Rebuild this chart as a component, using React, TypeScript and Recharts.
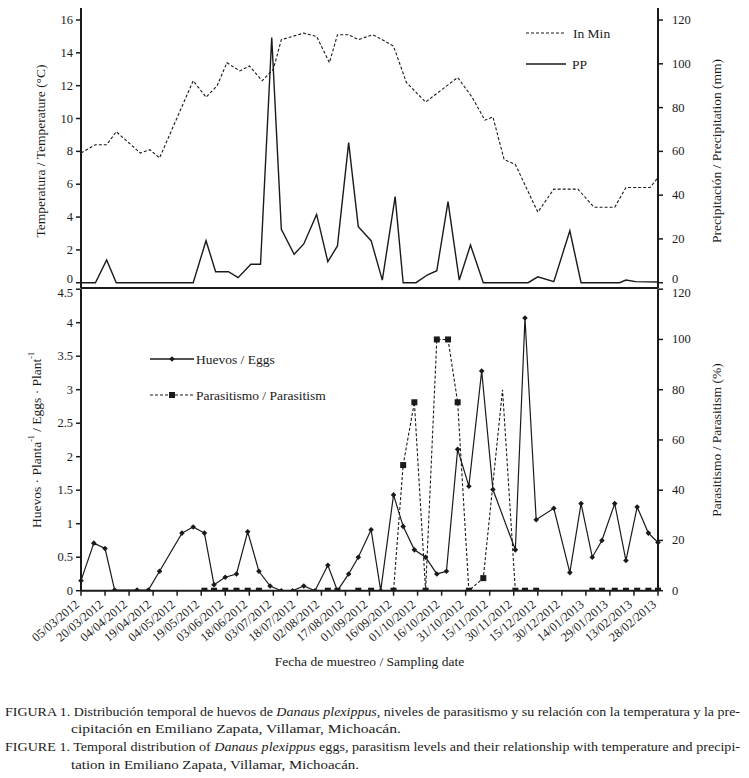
import { ComposedChart, Line, XAxis, YAxis, Legend } from 'recharts'

const FONT = '"Liberation Serif", "DejaVu Serif", serif'
const INK = '#1a1a1a'

// sampling dates, as days after 05/03/2012
const dateTicks = [0, 15, 30, 45, 60, 75, 90, 105, 120, 135, 150, 165, 180, 195, 210, 225, 240, 255, 270, 285, 300, 315, 330, 345, 360]
const dateLabels = [
  '05/03/2012', '20/03/2012', '04/04/2012', '19/04/2012', '04/05/2012', '19/05/2012',
  '03/06/2012', '18/06/2012', '03/07/2012', '18/07/2012', '02/08/2012', '17/08/2012',
  '01/09/2012', '16/09/2012', '01/10/2012', '16/10/2012', '31/10/2012', '15/11/2012',
  '30/11/2012', '15/12/2012', '30/12/2012', '14/01/2013', '29/01/2013', '13/02/2013', '28/02/2013',
]

const tempTicks = [0, 2, 4, 6, 8, 10, 12, 14, 16]
const ppTicks = [0, 20, 40, 60, 80, 100, 120]
const huevosTicks = [0, 0.5, 1, 1.5, 2, 2.5, 3, 3.5, 4, 4.5]
const parTicks = [0, 20, 40, 60, 80, 100, 120]

// In Min (°C)
const tempDays = [0, 9, 16, 22, 37, 43, 49, 70, 78, 85, 91, 99, 105, 113, 120, 125, 132, 139, 147, 155, 160, 167, 173, 182, 188, 195, 203, 215, 235, 244, 252, 257, 264, 271, 285, 295, 310, 320, 333, 340, 355, 360]
const tempValues = [7.9, 8.4, 8.4, 9.2, 7.9, 8.1, 7.6, 12.3, 11.3, 12.0, 13.4, 12.9, 13.2, 12.3, 13.0, 14.8, 15.0, 15.2, 15.0, 13.4, 15.1, 15.1, 14.8, 15.1, 14.8, 14.4, 12.2, 11.0, 12.5, 11.3, 9.9, 10.1, 7.5, 7.2, 4.3, 5.7, 5.7, 4.6, 4.6, 5.8, 5.8, 6.4]

// PP (mm)
const ppDays = [0, 9, 16, 22, 70, 78, 84, 92, 98, 106, 112, 119, 125, 133, 139, 147, 154, 160, 167, 173, 181, 188, 196, 201, 209, 216, 222, 229, 236, 243, 251, 279, 285, 295, 305, 312, 336, 340, 346, 360]
const ppValues = [0, 0, 10.4, 0, 0, 19.2, 5, 5, 2.3, 8.4, 8.4, 112, 24.4, 13, 17.7, 31.2, 9.6, 16.8, 64, 25.6, 19.2, 1.2, 39.3, 0, 0, 3.5, 5.5, 37, 1.2, 17.2, 0, 0, 2.7, 0.5, 23.7, 0, 0, 1.2, 0.5, 0.3]

// Huevos / Eggs per plant
const huevosDays = [0, 8, 15, 21, 35, 42, 49, 63, 70, 77, 83, 90, 97, 104, 111, 118, 125, 132, 139, 146, 154, 160, 167, 173, 181, 187, 195, 201, 208, 215, 222, 228, 235, 242, 250, 257, 271, 277, 284, 295, 305, 312, 319, 325, 333, 340, 347, 354, 360]
const huevosValues = [0.15, 0.71, 0.63, 0.01, 0.01, 0.01, 0.29, 0.86, 0.95, 0.86, 0.09, 0.2, 0.25, 0.88, 0.29, 0.07, 0, 0, 0.07, 0, 0.38, 0, 0.25, 0.5, 0.91, 0, 1.43, 0.96, 0.61, 0.5, 0.25, 0.29, 2.11, 1.56, 3.28, 1.51, 0.61, 4.07, 1.06, 1.23, 0.27, 1.3, 0.5, 0.75, 1.3, 0.45, 1.25, 0.86, 0.72]

// Parasitismo (%)
const parDays = [77, 83, 90, 97, 104, 111, 154, 160, 173, 181, 195, 201, 208, 215, 222, 229, 235, 242, 251, 263, 271, 277, 284, 319, 325, 333, 340, 347, 354, 360]
const parValues = [0, 0, 0, 0, 0, 0, 0, 0, 0, 0, 0, 50, 75, 0, 100, 100, 75, 0, 5, 80, 0, 0, 0, 0, 0, 0, 0, 0, 0, 0]
const parNoMarker = [263]

const tempData = tempDays.map((day, i) => ({ day, value: tempValues[i] }))
const ppData = ppDays.map((day, i) => ({ day, value: ppValues[i] }))
const huevosData = huevosDays.map((day, i) => ({ day, value: huevosValues[i] }))
const parData = parDays.map((day, i) => ({ day, value: parValues[i] }))

const axisLine = { stroke: INK, strokeWidth: 2 }
const tickLine = { stroke: INK, strokeWidth: 1.5 }

// the two panels touch, so the end labels are nudged apart a little
function YTick({ x, y, payload, textAnchor, nudgeValue, nudge }: any) {
  const dy = payload.value === nudgeValue ? nudge : 0
  return (
    <text
      x={x}
      y={y + dy}
      textAnchor={textAnchor}
      dominantBaseline="central"
      fontFamily={FONT}
      fontSize={12.5}
      fill={INK}
    >
      {payload.value}
    </text>
  )
}

function VTitle({ vb, dx, cy, children }: any) {
  const x = vb.x + dx
  const y = cy
  return (
    <text
      x={x}
      y={y}
      transform={`rotate(-90 ${x} ${y})`}
      textAnchor="middle"
      dominantBaseline="central"
      fontFamily={FONT}
      fontSize={13.5}
      fill={INK}
    >
      {children}
    </text>
  )
}

function DateTick({ x, y, payload, index }: any) {
  const label = dateLabels[index] ?? dateLabels[dateTicks.indexOf(payload.value)]
  const ax = x - 1
  const ay = y + 8
  return (
    <text
      x={ax}
      y={ay}
      transform={`rotate(-40 ${ax} ${ay})`}
      textAnchor="end"
      fontFamily={FONT}
      fontSize={12.5}
      fill={INK}
    >
      {label}
    </text>
  )
}

function DiamondDot({ cx, cy, index }: any) {
  if (cx == null || cy == null) return <g key={`d${index}`} />
  const r = 2.8
  return (
    <path
      key={`d${index}`}
      d={`M${cx},${cy - r}L${cx + r},${cy}L${cx},${cy + r}L${cx - r},${cy}Z`}
      fill={INK}
    />
  )
}

function SquareDot({ cx, cy, index, payload }: any) {
  if (cx == null || cy == null || parNoMarker.includes(payload.day)) return <g key={`s${index}`} />
  return <rect key={`s${index}`} x={cx - 3} y={cy - 3} width={6} height={6} fill={INK} />
}

function TopLegend() {
  return (
    <svg width={110} height={56}>
      <line x1={4} y1={11} x2={44} y2={11} stroke={INK} strokeWidth={1.1} strokeDasharray="3 2" />
      <text x={51} y={15.5} fontFamily={FONT} fontSize={13.5} fill={INK}>In Min</text>
      <line x1={4} y1={42} x2={44} y2={42} stroke={INK} strokeWidth={1.6} />
      <text x={50} y={46.5} fontFamily={FONT} fontSize={13.5} fill={INK}>PP</text>
    </svg>
  )
}

function BottomLegend() {
  return (
    <svg width={200} height={56}>
      <line x1={0} y1={10} x2={44} y2={10} stroke={INK} strokeWidth={1.4} />
      <path d="M22,7.2L24.8,10L22,12.8L19.2,10Z" fill={INK} />
      <text x={46} y={14.5} fontFamily={FONT} fontSize={13.5} fill={INK}>Huevos / Eggs</text>
      <line x1={0} y1={46} x2={44} y2={46} stroke={INK} strokeWidth={1.2} strokeDasharray="3 2" />
      <rect x={19} y={43} width={6} height={6} fill={INK} />
      <text x={46} y={50.5} fontFamily={FONT} fontSize={13.5} fill={INK}>Parasitismo / Parasitism</text>
    </svg>
  )
}

function Caption() {
  const t = { fontFamily: FONT, fontSize: 13.5, fill: INK }
  return (
    <svg width={749} height={88} style={{ position: 'absolute', left: 0, top: 690 }}>
      <text x={5} y={26} textLength={735} lengthAdjust="spacingAndGlyphs" {...t}>
        FIGURA 1. Distribución temporal de huevos de <tspan fontStyle="italic">Danaus plexippus</tspan>, niveles de parasitismo y su relación con la temperatura y la pre-
      </text>
      <text x={71} y={43} textLength={330} lengthAdjust="spacingAndGlyphs" {...t}>
        cipitación en Emiliano Zapata, Villamar, Michoacán.
      </text>
      <text x={5} y={61} textLength={735} lengthAdjust="spacingAndGlyphs" {...t}>
        FIGURE 1. Temporal distribution of <tspan fontStyle="italic">Danaus plexippus</tspan> eggs, parasitism levels and their relationship with temperature and precipi-
      </text>
      <text x={71} y={79} textLength={288} lengthAdjust="spacingAndGlyphs" {...t}>
        tation in Emiliano Zapata, Villamar, Michoacán.
      </text>
    </svg>
  )
}

export default function App() {
  return (
    <div style={{ position: 'absolute', left: 0, top: 0, width: 749, height: 778, background: '#fff', fontFamily: FONT }}>
      <div style={{ position: 'absolute', left: 0, top: 0 }}>
        <ComposedChart width={749} height={300} margin={{ top: 8, right: 0, bottom: 11, left: 0 }}>
          <XAxis
            type="number"
            dataKey="day"
            domain={[0, 360]}
            ticks={dateTicks}
            tick={false}
            tickLine={false}
            height={1}
            axisLine={axisLine}
          />
          <YAxis
            yAxisId="t"
            orientation="left"
            width={81}
            domain={[-0.32, 16.73]}
            ticks={tempTicks}
            allowDataOverflow
            tick={(p: any) => <YTick {...p} nudgeValue={0} nudge={-3.5} />}
            tickSize={5}
            tickMargin={3}
            tickLine={tickLine}
            axisLine={axisLine}
            label={({ viewBox }: any) => <VTitle vb={viewBox} dx={40} cy={151}>Temperatura / Temperature (°C)</VTitle>}
          />
          <YAxis
            yAxisId="p"
            orientation="right"
            width={91}
            domain={[-2.42, 125.5]}
            ticks={ppTicks}
            allowDataOverflow
            tick={(p: any) => <YTick {...p} nudgeValue={0} nudge={-3.5} />}
            tickSize={5}
            tickMargin={9}
            tickLine={tickLine}
            axisLine={axisLine}
            label={({ viewBox }: any) => <VTitle vb={viewBox} dx={58} cy={151}>Precipitación / Precipitation (mm)</VTitle>}
          />
          <Legend
            layout="vertical"
            align="center"
            verticalAlign="middle"
            content={<TopLegend />}
            wrapperStyle={{ left: 522, top: 22, width: 110, height: 56 }}
          />
          <Line
            yAxisId="t"
            data={tempData}
            dataKey="value"
            name="In Min"
            stroke={INK}
            strokeWidth={1.1}
            strokeDasharray="3 2"
            dot={false}
            isAnimationActive={false}
          />
          <Line
            yAxisId="p"
            data={ppData}
            dataKey="value"
            name="PP"
            stroke={INK}
            strokeWidth={1.4}
            dot={false}
            isAnimationActive={false}
          />
        </ComposedChart>
      </div>
      <div style={{ position: 'absolute', left: 0, top: 270 }}>
        <ComposedChart width={749} height={400} margin={{ top: 19.2, right: 0, bottom: 0, left: 0 }}>
          <XAxis
            type="number"
            dataKey="day"
            domain={[0, 360]}
            ticks={dateTicks}
            interval={0}
            height={79.3}
            tick={<DateTick />}
            tickSize={5}
            tickLine={tickLine}
            axisLine={axisLine}
            label={({ viewBox }: any) => (
              <text
                x={viewBox.x + viewBox.width / 2}
                y={viewBox.y + 75}
                textAnchor="middle"
                fontFamily={FONT}
                fontSize={13.5}
                fill={INK}
              >
                Fecha de muestreo / Sampling date
              </text>
            )}
          />
          <YAxis
            yAxisId="h"
            orientation="left"
            width={81}
            domain={[0, 4.5]}
            ticks={huevosTicks}
            allowDataOverflow
            tick={(p: any) => <YTick {...p} nudgeValue={4.5} nudge={3.5} />}
            tickSize={5}
            tickMargin={3}
            tickLine={tickLine}
            axisLine={axisLine}
            label={({ viewBox }: any) => (
              <VTitle vb={viewBox} dx={36} cy={170}>
                Huevos · Planta<tspan dy={-5} fontSize={8}>-1</tspan>
                <tspan dy={5}> / Eggs · Plant</tspan>
                <tspan dy={-5} fontSize={8}>-1</tspan>
              </VTitle>
            )}
          />
          <YAxis
            yAxisId="par"
            orientation="right"
            width={91}
            domain={[0, 120]}
            ticks={parTicks}
            allowDataOverflow
            tick={(p: any) => <YTick {...p} nudgeValue={120} nudge={3.5} />}
            tickSize={5}
            tickMargin={9}
            tickLine={tickLine}
            axisLine={axisLine}
            label={({ viewBox }: any) => <VTitle vb={viewBox} dx={58} cy={170}>Parasitismo / Parasitism (%)</VTitle>}
          />
          <Legend
            layout="vertical"
            align="center"
            verticalAlign="middle"
            content={<BottomLegend />}
            wrapperStyle={{ left: 150, top: 79, width: 200, height: 56 }}
          />
          <Line
            yAxisId="h"
            data={huevosData}
            dataKey="value"
            name="Huevos / Eggs"
            stroke={INK}
            strokeWidth={1.2}
            dot={DiamondDot}
            activeDot={false}
            isAnimationActive={false}
          />
          <Line
            yAxisId="par"
            data={parData}
            dataKey="value"
            name="Parasitismo / Parasitism"
            stroke={INK}
            strokeWidth={1.1}
            strokeDasharray="3 2"
            dot={SquareDot}
            activeDot={false}
            isAnimationActive={false}
          />
        </ComposedChart>
      </div>
      <Caption />
    </div>
  )
}
